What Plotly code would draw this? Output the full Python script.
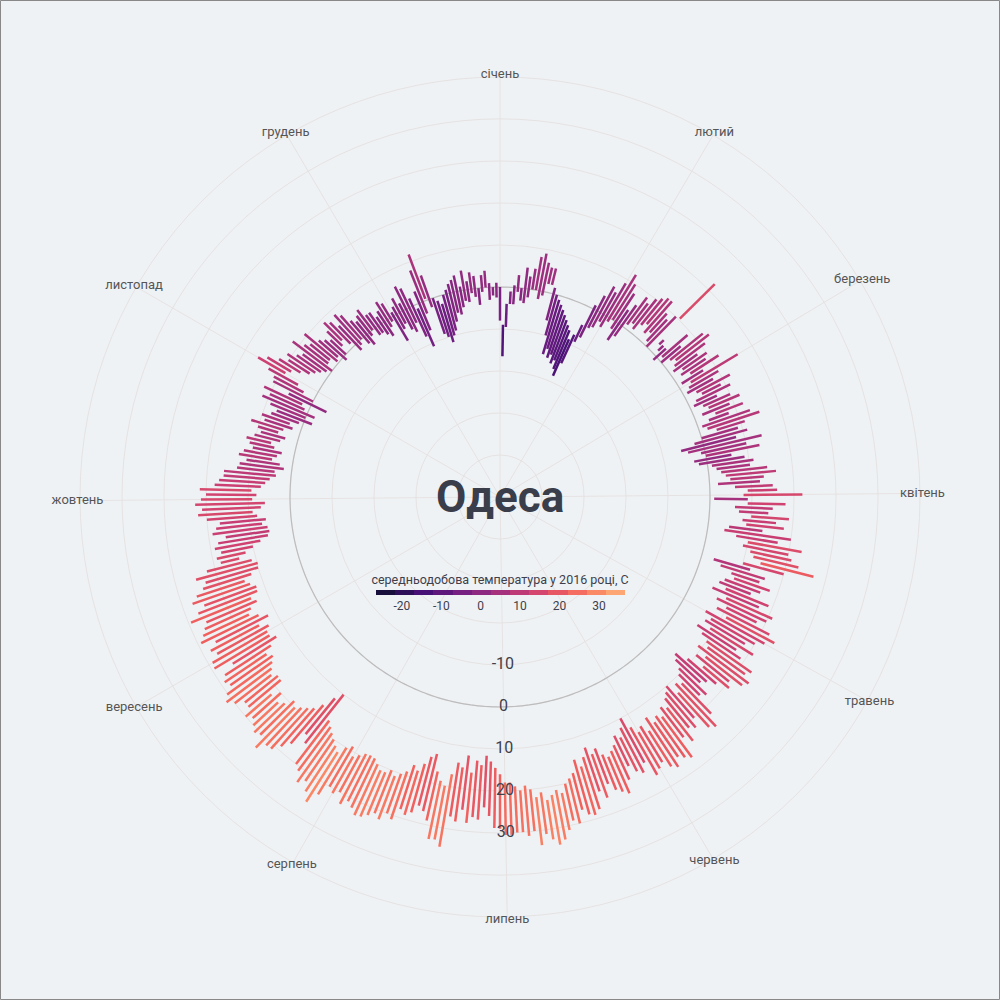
import numpy as np
import plotly.graph_objects as go
from plotly.colors import sample_colorscale

# місяці і перші дні місяців (2016 - високосний рік)
months = ['січень', 'лютий', 'березень', 'квітень', 'травень', 'червень',
          'липень', 'серпень', 'вересень', 'жовтень', 'листопад', 'грудень']
month_start = [0, 31, 60, 91, 121, 152, 182, 213, 244, 274, 305, 335]

# мінімальна / максимальна добова температура, C
jan_min = [-8, -16.5, -9.5, -4, -4, -1, -3, -3.5, -2, 0, 0, -2, -1, 2, 2, -6.5,
           -10, -14.5, -13, -15, -14, -16, -15, -17, -18.5, -15, -9, -7.5, -4.6, -4, -2]
jan_max = [0, -9, -4, -1, 0.5, 3, 0, 5, 3, 5, 8, 9, 7, 6, 6, 1.5,
           0, -1, -2, -3, -4, -5, -6, -7, -9, -7.5, -4.6, 1, 4, 7, 6]
feb_min = [-3, -1, 0, -2, -4.7, -3, 1, 2, 1, 3, 4, 2, 3, 1, 0,
           10.3, 2.5, 1.3, -1, 1, 0, 2, 3, 2, 1, 3, 2, 4, 1]
feb_max = [9, 12, 10, 8, 4, 6, 9, 8, 10, 11, 12, 12, 9, 8, 10,
           22, 4, 3, 3, 9, 6, 12, 13, 11, 8, 10, 9, 12, 7]
mar_min = [3, 2, 1, 3, 4, 2, 1, 3, 4, 2, 5, 3, 1, 2, 4, 0,
           -2, -5.5, -4, -1, 0, -3, -2, 1, 2, 3, 4, 5, 2, 6, 9]
mar_max = [16, 10, 8, 12, 9, 11, 7, 10, 12, 9, 12, 8, 13, 15, 11, 9,
           11, 8, 14, 10, 13, 6, 9, 11, 10, 14, 16, 13, 12, 15, 16]
apr_min = [8, 1, 9, 6, 7, 10, 8, 9, 5, 4, 7, 10, 9, 11, 12,
           14, 10, 3, 5, 8, 9, 7, 6, 8, 5, 9, 7, 10, 8, 11]
apr_max = [22, 9, 18, 15, 14, 19, 16, 18, 13, 20, 17, 23, 20, 21, 23,
           27, 20, 12, 16, 15, 18, 16, 14, 19, 17, 21, 20, 18, 22, 24]
may_min = [6, 8, 7, 9, 6, 8, 10, 11, 9, 12, 10, 13, 9, 6, 7, 9,
           10, 12, 11, 13, 10, 11, 12, 14, 13, 15, 14, 15, 13, 16, 14]
may_max = [22, 20, 18, 21, 17, 19, 23, 22, 24, 23, 20, 21, 18, 16, 15, 18,
           17, 22, 25, 24, 20, 22, 21, 24, 22, 27, 26, 25, 27, 26, 24]
jun_min = [15, 13, 10, 12, 14, 13, 15, 16, 17, 16, 14, 15, 13, 15, 17,
           15, 18, 19, 20, 22, 21, 22, 23, 21, 22, 20, 19, 20, 19, 18]
jun_max = [25, 26, 22, 24, 23, 21, 24, 27, 26, 25, 23, 26, 24, 28, 29,
           28.5, 27, 30, 29, 31, 33, 34, 32.5, 31, 33.5, 30, 31, 30, 30, 30.5]
jul_min = [18, 16, 14.5, 13, 11.7, 14, 13, 16, 12, 15, 14, 17, 20, 19, 17, 13,
           14, 16, 18, 17, 19, 20, 21, 20, 21, 21, 20, 19, 18.8, 19, 20]
jul_max = [30.5, 29, 28.8, 26, 24, 27, 26.5, 28, 25, 28, 27, 34.5, 33, 33.2, 29, 27,
           26, 28, 29, 28, 31, 30, 32, 31, 32, 33, 33.3, 32, 31, 32.4, 30]
aug_min = [21, 19, 20, 22, 21, 20, 19, 18, 17, 10, 12, 15, 17, 18, 19, 20,
           19, 21, 22, 20, 21.9, 18, 17.9, 19, 18, 17, 16, 17, 15, 12.8, 14]
aug_max = [31, 30, 33, 36, 34, 32, 33.3, 31, 30, 24.8, 23, 27, 29, 31, 31.2, 33.3,
           30.4, 31, 30, 29, 30, 28, 28, 30, 31.4, 30.2, 28.3, 29, 28, 25, 29.3]
sep_min = [14, 13, 15, 12, 14, 16, 15, 13, 14, 12, 11.8, 13, 14, 12, 10,
           9.8, 11, 13.8, 12, 10, 8, 6, 5.5, 5.8, 7, 6, 8, 9, 7, 6]
sep_max = [29, 27, 28, 26, 29.2, 28, 27, 26, 29.4, 27, 25, 27.5, 26, 24, 23,
           25, 22, 18.3, 19, 17.7, 19, 18, 16, 19, 18, 17, 20, 22, 21, 22.6]
oct_min = [9, 8, 9.2, 7, 6, 5, 3.6, 4, 1.9, 3, 5, 4, 3, 5, 6, 4,
           3, 5, 4, 2, 3, 1, -2, 0, -2, 1, 2, -4, 0, 3, 5]
oct_max = [21.2, 20, 21.5, 18, 17, 16, 16, 13, 12.5, 11, 13, 12, 10, 11, 12, 10.3,
           9, 10, 12, 9, 10, 8, 7, 9, 11.5, 10, 12, 6, 10.6, 11, 13]
nov_min = [9, 8, 6, 4, 3, 2, 1, 0, 1.8, 2, 0.4, 1, -1, 0, 2,
           3, 1, -1.9, -1, 0, -2, -3, -1, 0, -2, -2, -3, -4, -2, -1]
nov_max = [16.5, 14.6, 12, 10, 11, 9, 8, 11.7, 9, 8, 10.6, 7, 6, 5, 7,
           9, 8, 6, 8.6, 7.5, 5, 4, 5, 6, 3.8, 3.8, 2, 3, 5, 4]
dec_min = [-6.8, -4, -3, -5, -6, -4, -8, -10.8, -7, -3, 0.4, -2, -9, -10, -11.5, -10,
           -9, -7, -5, -5.6, -4, -2.6, -3, -1, -2, -4, -1, 0, -3, -2, -2.5]
dec_max = [1, 2, 3.8, 2, 6, 5, 2, -1, 3, 8, 11.7, 6, 0, -1, -2, 0,
           1, 2.2, 3, 3.9, 1, 4.7, 2, 4, 3, 0, 3, 4, 1, 0, 1]

t_min = (jan_min + feb_min + mar_min + apr_min + may_min + jun_min +
         jul_min + aug_min + sep_min + oct_min + nov_min + dec_min)
t_max = (jan_max + feb_max + mar_max + apr_max + may_max + jun_max +
         jul_max + aug_max + sep_max + oct_max + nov_max + dec_max)
n_days = len(t_min)

radial_ticks = [-10, 0, 10, 20, 30]
cbar_ticks = [-20, -10, 0, 10, 20, 30]

# кольорова шкала (частина magma)
cmin, cmax = -26.7, 36.5
mag_lo, mag_hi = 0.08, 0.84


def temp_color(v):
    f = (v - cmin) / (cmax - cmin)
    f = min(max(f, 0), 1)
    return sample_colorscale('Magma', [mag_lo + f * (mag_hi - mag_lo)])[0]


# ступінчаста шкала для легенди
n_steps = 13
stepped = []
for k in range(n_steps):
    c = sample_colorscale('Magma', [mag_lo + (k + 0.5) / n_steps * (mag_hi - mag_lo)])[0]
    stepped.append([k / n_steps, c])
    stepped.append([(k + 1) / n_steps, c])

day_angle = 360 / n_days
theta = np.arange(n_days) * day_angle
month_theta = [d * day_angle for d in month_start]

font_family = 'Roboto, Liberation Sans, sans-serif'
bg = '#eff2f5'
grid = '#e6e2e2'
text_col = '#3d3f4b'

# геометрія: область графіка 860x860, основне коло радіусом 420 px
side = 860
r_px = 420
lbl_r = 50.6          # радіус підписів місяців (в градусах шкали)
lbl_px = r_px * (lbl_r + 50) / 100
d1 = [0.5 - r_px / side, 0.5 + r_px / side]
d2 = [0.5 - lbl_px / side, 0.5 + lbl_px / side]

fig = go.Figure()

# коло нуля
fig.add_trace(go.Scatterpolar(r=[0] * 361, theta=list(range(361)), mode='lines',
                              line=dict(color='#bdbdbd', width=1.2),
                              hoverinfo='skip', showlegend=False))

# по одній лінії на день: від мінімуму до максимуму
for i in range(n_days):
    mean = (t_min[i] + t_max[i]) / 2
    fig.add_trace(go.Scatterpolar(
        r=[t_min[i], t_max[i]], theta=[theta[i], theta[i]], mode='lines',
        line=dict(color=temp_color(mean), width=2.5),
        hoverinfo='skip', showlegend=False))

# підписи радіальної осі (уздовж лінії 1 липня)
fig.add_trace(go.Scatterpolar(
    r=radial_ticks, theta=[month_theta[6]] * len(radial_ticks), mode='text',
    text=[str(v) for v in radial_ticks],
    textfont=dict(family=font_family, size=16, color=text_col),
    hoverinfo='skip', showlegend=False))

# назви місяців (на допоміжній полярній системі з трохи більшим радіусом)
fig.add_trace(go.Scatterpolar(
    r=[lbl_r] * len(months), theta=month_theta, mode='text', text=months,
    textfont=dict(family=font_family, size=13, color='#555555'),
    cliponaxis=False, subplot='polar2', hoverinfo='skip', showlegend=False))

# невидимий слід для шкали кольорів
fig.add_trace(go.Scatterpolar(
    r=[0], theta=[0], mode='markers',
    marker=dict(size=0.1, opacity=0, color=[0], cmin=cmin, cmax=cmax,
                colorscale=stepped, showscale=True,
                colorbar=dict(orientation='h', x=0.5, xanchor='center',
                              y=0.3895, yanchor='middle', len=269 / side,
                              thickness=5, outlinewidth=0,
                              tickvals=cbar_ticks, ticktext=[str(v) for v in cbar_ticks],
                              tickfont=dict(family=font_family, size=12, color=text_col),
                              title=dict(text='середньодобова температура у 2016 році, C',
                                         side='top',
                                         font=dict(family=font_family, size=12.5,
                                                   color=text_col)))),
    hoverinfo='skip', showlegend=False))

fig.add_annotation(x=0.5, y=0.5, xref='paper', yref='paper', text='<b>Одеса</b>',
                   showarrow=False, xanchor='center', yanchor='middle',
                   font=dict(family=font_family, size=44, color='#3a3d4a'))

fig.add_shape(type='rect', xref='paper', yref='paper',
              x0=-69.5 / side, x1=1 + 69.5 / side, y0=-72.5 / side, y1=1 + 66.5 / side,
              line=dict(color='#888888', width=1))

fig.update_layout(
    width=1000, height=1000,
    margin=dict(l=70, r=70, t=67, b=73),
    paper_bgcolor=bg, plot_bgcolor=bg,
    font=dict(family=font_family, color='#444'),
    showlegend=False,
    polar=dict(
        domain=dict(x=d1, y=d1),
        bgcolor=bg,
        radialaxis=dict(range=[-50, 50], tickvals=[-40, -30, -20, -10, 0, 10, 20, 30, 40],
                        showticklabels=False, ticks='', showline=False,
                        gridcolor=grid, gridwidth=1),
        angularaxis=dict(rotation=90, direction='clockwise',
                         tickvals=month_theta, showticklabels=False, ticks='',
                         gridcolor=grid, showline=True, linecolor=grid)
    ),
    polar2=dict(
        domain=dict(x=d2, y=d2),
        bgcolor='rgba(0,0,0,0)',
        radialaxis=dict(range=[-50, lbl_r], visible=False),
        angularaxis=dict(rotation=90, direction='clockwise', visible=False)
    )
)

fig.write_html('out.html', config={'displayModeBar': False},
               post_script="document.body.style.margin='0';")
